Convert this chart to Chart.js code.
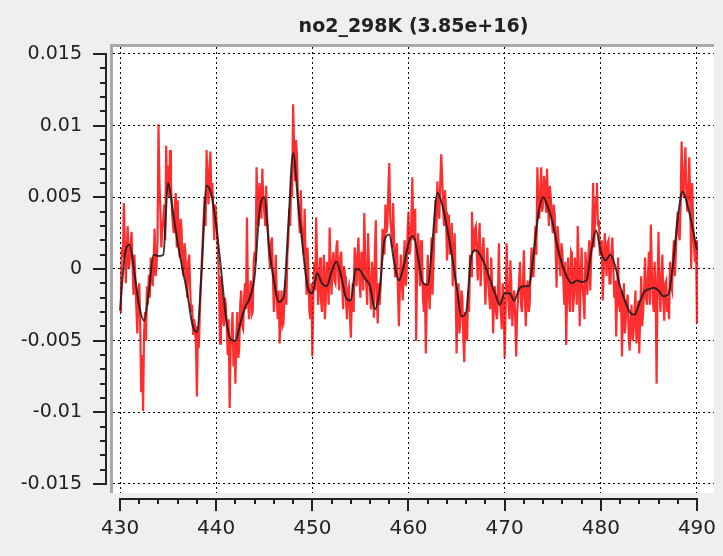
<!DOCTYPE html>
<html>
<head>
<meta charset="utf-8">
<script src="https://cdn.jsdelivr.net/npm/chart.js@4.4.0/dist/chart.umd.min.js"></script>
<style>
  html, body { margin: 0; padding: 0; background: #efefef; }
  #wrap { width: 723px; height: 556px; }
</style>
</head>
<body>
<div id="wrap"><canvas id="c" width="723" height="556"></canvas></div>
<script>
// ---- chart content ----
const chartTitle = 'no2_298K (3.85e+16)';

const xTickValues = [430, 440, 450, 460, 470, 480, 490];
const xTickLabels = ['430', '440', '450', '460', '470', '480', '490'];
const xMinorStep = 2;

const yTickValues = [-0.015, -0.01, -0.005, 0, 0.005, 0.01, 0.015];
const yTickLabels = ['-0.015', '-0.01', '-0.005', '0', '0.005', '0.01', '0.015'];
const yMinorStep = 0.001;

// measured residual, one row per nm (430.0 ... 430.9, 431.0 ...)
const measuredStart = 430;
const measuredStep = 0.1;
const measuredValues = [
  -0.0030, -0.0012, 0.0015, 0.0008, 0.0046, 0.0020, -0.0010, 0.0012, 0.0030, 0.0000,
  0.0005, 0.0018, 0.0026, 0.0002, -0.0018, 0.0010, -0.0008, -0.0028, -0.0045, -0.0015,
  -0.0010, -0.0040, -0.0086, -0.0060, -0.0099, -0.0045, -0.0030, -0.0050, -0.0012, -0.0025,
  -0.0004, -0.0020, 0.0008, -0.0002, -0.0012, 0.0005, 0.0028, -0.0005, 0.0002, 0.0020,
  0.0101, 0.0060, 0.0040, 0.0015, 0.0028, 0.0035, 0.0045, 0.0020, 0.0086, 0.0055,
  0.0072, 0.0050, 0.0083, 0.0060, 0.0042, 0.0030, 0.0025, 0.0045, 0.0053, 0.0015,
  0.0048, 0.0020, 0.0008, 0.0035, 0.0028, 0.0000, -0.0005, 0.0018, 0.0012, -0.0010,
  -0.0020, 0.0005, 0.0010, -0.0015, -0.0030, -0.0025, -0.0046, -0.0035, -0.0040, -0.0055,
  -0.0089, -0.0040, -0.0055, -0.0030, -0.0012, 0.0005, 0.0020, 0.0035, 0.0050, 0.0030,
  0.0083, 0.0062, 0.0045, 0.0070, 0.0082, 0.0050, 0.0060, 0.0040, 0.0020, 0.0045,
  0.0038, 0.0025, 0.0010, -0.0015, -0.0052, -0.0005, -0.0018, -0.0035, -0.0040, -0.0020,
  -0.0025, -0.0040, -0.0060, -0.0035, -0.0097, -0.0055, -0.0045, -0.0030, -0.0068, -0.0050,
  -0.0080, -0.0045, -0.0030, -0.0062, -0.0055, -0.0025, -0.0015, -0.0040, -0.0042, -0.0020,
  -0.0010, -0.0028, 0.0036, -0.0015, -0.0035, -0.0020, -0.0008, -0.0032, -0.0030, 0.0005,
  0.0012, 0.0005, 0.0071, 0.0040, 0.0030, 0.0060, 0.0052, 0.0035, 0.0070, 0.0048,
  0.0040, 0.0030, 0.0058, 0.0035, 0.0026, 0.0010, 0.0001, 0.0018, 0.0022, -0.0005,
  -0.0030, -0.0010, 0.0010, -0.0022, -0.0035, -0.0015, -0.0052, -0.0030, -0.0015, -0.0040,
  -0.0038, -0.0020, -0.0008, -0.0025, 0.0010, 0.0020, 0.0042, 0.0030, 0.0065, 0.0050,
  0.0115, 0.0085, 0.0062, 0.0090, 0.0080, 0.0050, 0.0035, 0.0025, 0.0055, 0.0030,
  0.0020, 0.0010, 0.0042, 0.0005, -0.0018, 0.0015, -0.0006, -0.0030, -0.0035, -0.0010,
  -0.0061, -0.0020, 0.0005, -0.0015, 0.0036, 0.0002, -0.0025, -0.0010, 0.0008, -0.0022,
  -0.0030, -0.0012, 0.0010, -0.0035, -0.0022, 0.0005, -0.0005, -0.0025, 0.0029, 0.0000,
  -0.0018, 0.0005, 0.0012, -0.0008, -0.0010, 0.0015, 0.0020, -0.0005, -0.0015, 0.0008,
  0.0012, -0.0010, -0.0028, 0.0002, -0.0005, -0.0022, -0.0035, -0.0015, -0.0012, -0.0030,
  -0.0048, -0.0025, -0.0010, -0.0030, 0.0015, 0.0005, -0.0012, 0.0010, 0.0022, -0.0008,
  -0.0020, 0.0012, 0.0008, -0.0015, 0.0039, 0.0010, -0.0010, -0.0025, 0.0025, 0.0000,
  -0.0015, -0.0028, 0.0005, -0.0010, -0.0034, 0.0010, 0.0034, -0.0020, -0.0038, -0.0010,
  -0.0025, -0.0012, 0.0005, 0.0028, 0.0018, 0.0010, 0.0045, 0.0025, 0.0030, 0.0055,
  0.0074, 0.0035, 0.0028, 0.0015, 0.0046, 0.0020, -0.0005, 0.0010, 0.0018, -0.0015,
  -0.0040, -0.0015, 0.0010, -0.0008, -0.0022, 0.0005, 0.0020, -0.0012, -0.0005, 0.0025,
  0.0040, 0.0010, 0.0015, 0.0035, 0.0064, 0.0020, 0.0030, 0.0042, -0.0050, 0.0005,
  0.0025, 0.0005, -0.0012, 0.0020, 0.0015, -0.0020, -0.0030, -0.0010, -0.0059, -0.0022,
  0.0010, -0.0015, -0.0028, -0.0005, 0.0022, -0.0018, 0.0005, 0.0030, 0.0048, 0.0025,
  0.0061, 0.0045, 0.0035, 0.0060, 0.0080, 0.0065, 0.0042, 0.0030, 0.0055, 0.0040,
  0.0006, 0.0030, 0.0038, 0.0010, 0.0015, 0.0032, -0.0012, 0.0005, 0.0025, -0.0010,
  -0.0059, -0.0025, -0.0010, -0.0045, -0.0035, -0.0015, -0.0020, -0.0048, -0.0065, -0.0030,
  -0.0042, -0.0050, -0.0015, -0.0030, 0.0010, -0.0005, 0.0040, 0.0020, 0.0012, 0.0028,
  0.0030, 0.0010, -0.0008, 0.0020, 0.0032, -0.0012, 0.0005, 0.0015, 0.0022, -0.0005,
  -0.0025, 0.0000, 0.0015, -0.0010, -0.0020, -0.0028, 0.0008, -0.0012, -0.0045, -0.0020,
  -0.0012, -0.0030, -0.0035, -0.0018, 0.0018, -0.0022, -0.0030, -0.0042, -0.0010, -0.0025,
  -0.0062, -0.0030, 0.0018, -0.0005, -0.0025, -0.0035, 0.0006, -0.0015, -0.0040, -0.0020,
  -0.0015, -0.0035, -0.0061, -0.0030, -0.0020, -0.0008, 0.0005, -0.0025, -0.0030, -0.0010,
  0.0013, -0.0020, -0.0040, -0.0015, -0.0008, -0.0030, -0.0025, 0.0000, 0.0015, -0.0005,
  -0.0005, 0.0015, 0.0030, 0.0010, 0.0071, 0.0050, 0.0035, 0.0055, 0.0071, 0.0040,
  0.0045, 0.0065, 0.0060, 0.0040, 0.0070, 0.0048, 0.0030, 0.0058, 0.0050, 0.0035,
  0.0025, 0.0045, 0.0038, 0.0015, -0.0013, 0.0030, 0.0020, 0.0005, -0.0005, 0.0018,
  0.0012, -0.0008, -0.0025, 0.0005, -0.0053, -0.0015, 0.0008, -0.0022, -0.0030, 0.0012,
  0.0010, -0.0030, -0.0020, 0.0008, -0.0005, -0.0025, 0.0030, 0.0005, -0.0040, -0.0012,
  0.0015, -0.0010, -0.0022, -0.0035, 0.0012, 0.0000, -0.0018, 0.0008, 0.0020, -0.0015,
  0.0008, 0.0025, 0.0060, 0.0015, 0.0035, 0.0050, 0.0060, 0.0030, 0.0034, 0.0010,
  0.0010, 0.0020, -0.0022, 0.0000, 0.0025, 0.0012, -0.0005, 0.0018, 0.0020, -0.0010,
  -0.0010, 0.0012, 0.0022, 0.0000, -0.0020, -0.0008, -0.0047, -0.0015, 0.0008, -0.0025,
  -0.0030, -0.0015, -0.0061, -0.0028, -0.0010, -0.0045, -0.0035, -0.0022, -0.0018, -0.0048,
  -0.0057, -0.0035, -0.0025, -0.0050, -0.0045, -0.0030, -0.0015, -0.0052, -0.0040, -0.0022,
  -0.0059, -0.0030, -0.0005, -0.0040, -0.0030, -0.0015, 0.0008, -0.0020, -0.0025, -0.0005,
  0.0012, -0.0025, 0.0031, 0.0002, -0.0020, -0.0030, 0.0005, -0.0015, -0.0080, -0.0010,
  0.0026, -0.0015, -0.0030, -0.0005, 0.0010, -0.0022, -0.0036, -0.0010, -0.0008, -0.0030,
  -0.0025, -0.0035, 0.0005, -0.0012, -0.0015, 0.0008, 0.0020, -0.0005, 0.0010, 0.0030,
  0.0040, 0.0025, 0.0020, 0.0045, 0.0089, 0.0060, 0.0050, 0.0070, 0.0085, 0.0050,
  0.0040, 0.0055, 0.0078, 0.0045, 0.0000, 0.0060, 0.0030, 0.0015, 0.0005, 0.0020,
  -0.0038
];

// fitted cross-section (nm grid: 430 + i*0.5)
const fittedStart = 430;
const fittedStep = 0.5;
const fittedValues = [
  -0.0029, 0.0010, 0.0017, -0.0003, -0.0026, -0.0036, -0.0015, 0.0010, 0.0009, 0.0010,
  0.0060, 0.0040, 0.0018, 0.0000, -0.0017, -0.0038, -0.0044, 0.0000, 0.0058, 0.0052,
  0.0030, 0.0000, -0.0033, -0.0049, -0.0050, -0.0038, -0.0027, -0.0020, -0.0005, 0.0040,
  0.0050, 0.0015, -0.0008, -0.0023, -0.0020, 0.0030, 0.0081, 0.0048, 0.0015, -0.0012,
  -0.0017, -0.0003, -0.0010, -0.0012, -0.0002, 0.0005, -0.0005, -0.0020, -0.0022, 0.0000,
  -0.0001, -0.0007, -0.0012, -0.0028, -0.0015, 0.0020, 0.0024, 0.0005, -0.0008, 0.0002,
  0.0018, 0.0023, 0.0008, -0.0010, -0.0011, 0.0020, 0.0053, 0.0045, 0.0029, 0.0010,
  -0.0012, -0.0033, -0.0030, 0.0008, 0.0013, 0.0009, 0.0002, -0.0008, -0.0017, -0.0025,
  -0.0017, -0.0017, -0.0022, -0.0014, -0.0012, -0.0012, 0.0010, 0.0038, 0.0050, 0.0043,
  0.0032, 0.0015, 0.0003, -0.0006, -0.0010, -0.0008, -0.0009, -0.0008, 0.0012, 0.0027,
  0.0012, 0.0006, 0.0010, 0.0002, -0.0012, -0.0022, -0.0030, -0.0032, -0.0024, -0.0016,
  -0.0014, -0.0013, -0.0015, -0.0019, -0.0018, 0.0003, 0.0035, 0.0054, 0.0045, 0.0030,
  0.0013
];

// ---- build point lists ----
const measuredPoints = measuredValues.map((v, i) => ({ x: measuredStart + i * measuredStep, y: v }));
const fittedPoints = fittedValues.map((v, i) => ({ x: fittedStart + i * fittedStep, y: v }));

const FONT = '"DejaVu Sans", sans-serif';
const INK = '#222222';

// panel background, white plot area and its bevelled top/left edge
const framePlugin = {
  id: 'frame',
  beforeDraw(chart) {
    const { ctx, chartArea: a } = chart;
    ctx.save();
    ctx.fillStyle = '#efefef';
    ctx.fillRect(0, 0, chart.width, chart.height);
    ctx.fillStyle = '#ffffff';
    ctx.fillRect(a.left, a.top, a.right - a.left, a.bottom - a.top);
    ctx.fillStyle = '#a8a8a8';
    ctx.fillRect(a.left - 3, a.top - 3, a.right - a.left + 3, 3);
    ctx.fillRect(a.left - 3, a.top - 3, 3, a.bottom - a.top + 3);
    ctx.restore();
  }
};

// ruler-style axes with major and minor ticks, plus the title
const rulerPlugin = {
  id: 'ruler',
  afterDraw(chart) {
    const { ctx, chartArea: a } = chart;
    const xs = chart.scales.x, ys = chart.scales.y;
    ctx.save();
    ctx.strokeStyle = INK;
    ctx.lineWidth = 2;
    ctx.lineCap = 'butt';

    // y ruler
    const yx = a.left - 7;
    const yTop = ys.getPixelForValue(yTickValues[yTickValues.length - 1]);
    const yBot = ys.getPixelForValue(yTickValues[0]);
    ctx.beginPath();
    ctx.moveTo(yx, yTop - 1);
    ctx.lineTo(yx, yBot + 1);
    const nY = Math.round((yTickValues[yTickValues.length - 1] - yTickValues[0]) / yMinorStep);
    for (let k = 0; k <= nY; k++) {
      const v = yTickValues[0] + k * yMinorStep;
      const p = Math.round(ys.getPixelForValue(v));
      const major = k % 5 === 0;
      ctx.moveTo(yx, p);
      ctx.lineTo(yx - (major ? 13 : 6), p);
    }
    ctx.stroke();

    // x ruler
    const xy = a.bottom + 6;
    const xL = xs.getPixelForValue(xTickValues[0]);
    const xR = xs.getPixelForValue(xTickValues[xTickValues.length - 1]);
    ctx.beginPath();
    ctx.moveTo(xL - 1, xy);
    ctx.lineTo(xR + 1, xy);
    const nX = Math.round((xTickValues[xTickValues.length - 1] - xTickValues[0]) / xMinorStep);
    for (let k = 0; k <= nX; k++) {
      const v = xTickValues[0] + k * xMinorStep;
      const p = Math.round(xs.getPixelForValue(v));
      const major = k % 5 === 0;
      ctx.moveTo(p, xy);
      ctx.lineTo(p, xy + (major ? 12 : 5));
    }
    ctx.stroke();

    // title, centred over the plot area
    ctx.fillStyle = INK;
    ctx.font = 'bold 19px ' + FONT;
    ctx.textAlign = 'center';
    ctx.textBaseline = 'alphabetic';
    ctx.fillText(chartTitle, (a.left + a.right) / 2, 32);
    ctx.restore();
  }
};

new Chart(document.getElementById('c'), {
  type: 'line',
  data: {
    datasets: [
      {
        label: 'fit',
        data: fittedPoints,
        borderColor: 'rgba(25,25,25,0.85)',
        borderWidth: 2,
        pointRadius: 0,
        cubicInterpolationMode: 'monotone',
        order: 0
      },
      {
        label: 'measured',
        data: measuredPoints,
        borderColor: 'rgba(255,0,0,0.82)',
        borderWidth: 2.2,
        pointRadius: 0,
        tension: 0,
        order: 1
      }
    ]
  },
  options: {
    responsive: false,
    animation: false,
    devicePixelRatio: 1,
    layout: { padding: { top: 47, right: 9, left: 0, bottom: 0 } },
    plugins: { legend: { display: false }, tooltip: { enabled: false }, title: { display: false } },
    scales: {
      x: {
        type: 'linear',
        min: 429.27,
        max: 491.77,
        afterBuildTicks: s => { s.ticks = xTickValues.map(v => ({ value: v })); },
        afterFit: s => { s.height = 63; s.paddingLeft = 0; s.paddingRight = 0; },
        ticks: {
          autoSkip: false,
          maxRotation: 0,
          padding: 24,
          color: INK,
          font: { family: FONT, size: 20 },
          callback: (val, idx) => xTickLabels[idx]
        },
        grid: { color: '#000000', lineWidth: 1, drawTicks: false },
        border: { display: false, dash: [2, 3] }
      },
      y: {
        type: 'linear',
        min: -0.015628,
        max: 0.015488,
        afterBuildTicks: s => { s.ticks = yTickValues.map(v => ({ value: v })); },
        afterFit: s => { s.width = 113; s.paddingTop = 0; s.paddingBottom = 0; },
        ticks: {
          autoSkip: false,
          padding: 31,
          color: INK,
          font: { family: FONT, size: 19 },
          callback: (val, idx) => yTickLabels[idx]
        },
        grid: { color: '#000000', lineWidth: 1, drawTicks: false },
        border: { display: false, dash: [2, 3] }
      }
    }
  },
  plugins: [framePlugin, rulerPlugin]
});
</script>
</body>
</html>
